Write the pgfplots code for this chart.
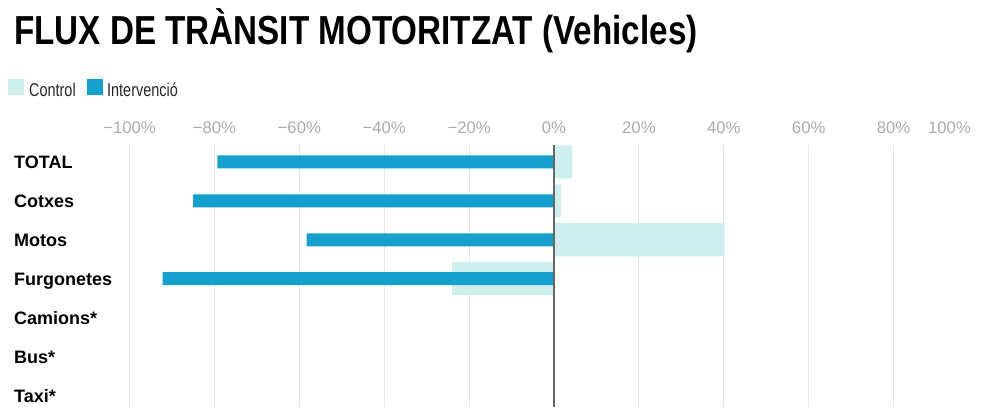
\documentclass[border=0pt]{standalone}
\usepackage{fontspec}
\setmainfont{Liberation Sans}
\newfontfamily\titlefont{Liberation Sans}[FakeStretch=0.82]
\newfontfamily\legfont{Liberation Sans}[FakeStretch=0.78]
\usepackage{pgfplots}
\pgfplotsset{compat=1.18}
\definecolor{ctrl}{HTML}{CFEEEE}
\definecolor{interv}{HTML}{149FCD}
\definecolor{ticklab}{HTML}{ABABAB}
\definecolor{gridc}{HTML}{E6E6E6}
\definecolor{zeroc}{HTML}{666666}
\begin{document}
\begin{tikzpicture}
\useasboundingbox (0pt,0pt) rectangle (985pt,-407pt);
\node[anchor=base west, inner sep=0, font=\titlefont\bfseries\fontsize{40.5}{44}\selectfont] at (14pt,-44pt) {FLUX DE TRÀNSIT MOTORITZAT (Vehicles)};
\fill[ctrl] (8pt,-79pt) rectangle (24pt,-95pt);
\node[anchor=base west, inner sep=0, font=\legfont\fontsize{18.5}{20}\selectfont, text=black!85] at (29pt,-96pt) {Control};
\fill[interv] (87pt,-79pt) rectangle (103pt,-95pt);
\node[anchor=base west, inner sep=0, font=\legfont\fontsize{18.5}{20}\selectfont, text=black!85] at (107pt,-96pt) {Intervenció};
\begin{axis}[
  at={(129.5pt,-407pt)}, anchor=south west,
  scale only axis, width=849pt, height=262pt,
  xmin=-100, xmax=100, ymin=-0.43, ymax=6.29,
  y dir=reverse,
  axis line style={draw=none},
  major tick length=0pt,
  xmajorgrids, grid style={gridc, line width=1pt},
  xtick={-100,-80,...,80},
  xticklabels={−100\%,−80\%,−60\%,−40\%,−20\%,0\%,20\%,40\%,60\%,80\%},
  xticklabel pos=upper,
  xticklabel style={anchor=base, inner sep=0pt, yshift=12pt, text=ticklab, font=\fontsize{16.7}{18}\selectfont},
  extra x ticks={100},
  extra x tick labels={100\%},
  extra x tick style={grid=none, xticklabel style={xshift=-29pt}},
  ytick={0,...,6},
  yticklabels={TOTAL,Cotxes,Motos,Furgonetes,Camions*,Bus*,Taxi*},
  yticklabel style={anchor=base west, inner sep=0pt, xshift=-115.5pt, yshift=-6.5pt, font=\bfseries\fontsize{18}{20}\selectfont, text=black},
  clip=false,
]
\addplot[xbar, bar width=33pt, bar shift=0pt, fill=ctrl, draw=none] coordinates {(4.3,0) (1.6,1) (40.2,2) (-24,3)};
\addplot[xbar, bar width=13pt, bar shift=0pt, fill=interv, draw=none] coordinates {(-79.3,0) (-85,1) (-58.3,2) (-92.2,3)};
\draw[zeroc, line width=1.5pt] (axis cs:0,-0.43) -- (axis cs:0,6.29);
\end{axis}
\end{tikzpicture}
\end{document}
